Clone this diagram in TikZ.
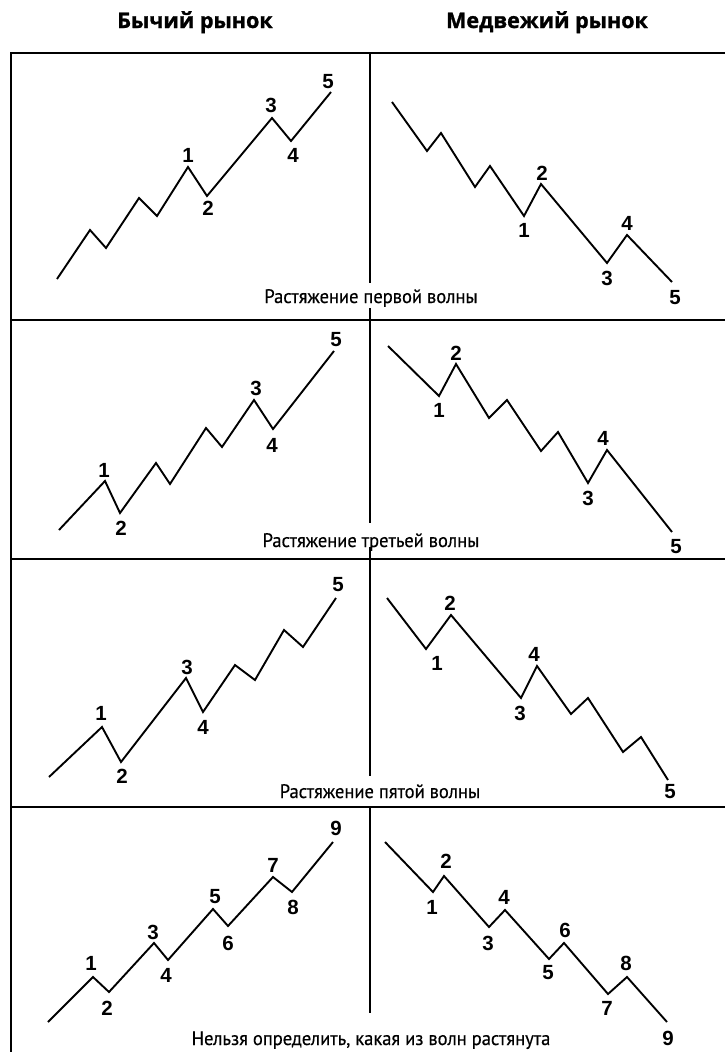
\documentclass[tikz,border=0pt]{standalone}
\usepackage{fontspec}
\setmainfont{PT Sans}
\newfontfamily\capfont[FakeStretch=0.95,FakeBold=0.4]{PT Sans}
\newfontfamily\numfont{Liberation Sans}
\newfontfamily\ttlfont[FakeBold=1.2]{Open Sans}
\begin{document}
\begin{tikzpicture}[x=1pt,y=-1pt,
  wave/.style={line width=1.9pt, line join=miter},
  frameline/.style={line width=1.8pt},
  lbl/.style={font=\numfont\bfseries\fontsize{20.5}{20.5}\selectfont, inner sep=0pt},
  captext/.style={font=\capfont\fontsize{19.5}{19.5}\selectfont, inner sep=0pt, anchor=base},
  titletext/.style={font=\ttlfont\bfseries\fontsize{21.5}{21.5}\selectfont, inner sep=0pt, anchor=base}]
\useasboundingbox (0,0) rectangle (724,1052);
\fill[white] (0,0) rectangle (724,1052);
% titles
\node[titletext] (tbull) at (195,28) {Бычий рынок};
\node[titletext] (tbear) at (547,28) {Медвежий рынок};
% frame
\draw[frameline] (11,1060) -- (11,53) -- (730,53);
\draw[frameline] (11,320) -- (730,320);
\draw[frameline] (11,559) -- (730,559);
\draw[frameline] (11,807) -- (730,807);
\draw[frameline] (370,53) -- (370,283);
\draw[frameline] (370,308) -- (370,523);
\draw[frameline] (370,547) -- (370,776);
\draw[frameline] (370,807) -- (370,1013);
% row 1
\draw[wave] (57,279) -- (90,230) -- (106,248) -- (139,198) -- (157,216) -- (188,167) -- (207,196) -- (272,118) -- (291,141) -- (331,92);
\draw[wave] (392,102) -- (427,151) -- (441,133) -- (475,187) -- (490,166) -- (524,216) -- (541,184) -- (607,263) -- (627,235) -- (672,282);
\node[lbl] (a1) at (188,155) {1};
\node[lbl] (a2) at (208,208) {2};
\node[lbl] (a3) at (271,105) {3};
\node[lbl] (a4) at (293,155) {4};
\node[lbl] (a5) at (328,82) {5};
\node[lbl] (b1) at (524,230) {1};
\node[lbl] (b2) at (542,173) {2};
\node[lbl] (b3) at (607,278) {3};
\node[lbl] (b4) at (627,223) {4};
\node[lbl] (b5) at (675,298) {5};
\node[captext] (c1) at (371,303) {Растяжение первой волны};
% row 2
\draw[wave] (59,530) -- (105,481) -- (120,513) -- (156,463) -- (170,484) -- (206,428) -- (222,447) -- (254,400) -- (273,429) -- (334,351);
\draw[wave] (388,346) -- (439,396) -- (456,364) -- (489,418) -- (507,400) -- (541,451) -- (558,432) -- (588,483) -- (607,450) -- (672,532);
\node[lbl] (d1) at (104,470) {1};
\node[lbl] (d2) at (121,528) {2};
\node[lbl] (d3) at (256,388) {3};
\node[lbl] (d4) at (272,445) {4};
\node[lbl] (d5) at (336,340) {5};
\node[lbl] (e1) at (439,410) {1};
\node[lbl] (e2) at (456,353) {2};
\node[lbl] (e3) at (588,498) {3};
\node[lbl] (e4) at (603,438) {4};
\node[lbl] (e5) at (676,547) {5};
\node[captext] (c2) at (371,547) {Растяжение третьей волны};
% row 3
\draw[wave] (49,777) -- (102,727) -- (121,762) -- (186,678) -- (203,712) -- (235,665) -- (255,680) -- (284,630) -- (303,647) -- (336,598);
\draw[wave] (387,598) -- (426,649) -- (451,615) -- (521,698) -- (537,666) -- (571,714) -- (588,698) -- (623,752) -- (641,737) -- (668,780);
\node[lbl] (f1) at (101,713) {1};
\node[lbl] (f2) at (122,776) {2};
\node[lbl] (f3) at (187,667) {3};
\node[lbl] (f4) at (203,727) {4};
\node[lbl] (f5) at (338,585) {5};
\node[lbl] (g1) at (437,663) {1};
\node[lbl] (g2) at (450,603) {2};
\node[lbl] (g3) at (520,713) {3};
\node[lbl] (g4) at (534,654) {4};
\node[lbl] (g5) at (670,792) {5};
\node[captext] (c3) at (380,798) {Растяжение пятой волны};
% row 4
\draw[wave] (48,1022) -- (93,977) -- (109,992) -- (154,943) -- (168,960) -- (213,909) -- (228,926) -- (273,877) -- (292,892) -- (333,842);
\draw[wave] (385,842) -- (433,892) -- (444,876) -- (489,927) -- (505,910) -- (549,959) -- (564,943) -- (608,994) -- (627,977) -- (667,1022);
\node[lbl] (h1) at (91,963) {1};
\node[lbl] (h2) at (107,1008) {2};
\node[lbl] (h3) at (153,932) {3};
\node[lbl] (h4) at (166,975) {4};
\node[lbl] (h5) at (215,897) {5};
\node[lbl] (h6) at (228,943) {6};
\node[lbl] (h7) at (273,865) {7};
\node[lbl] (h8) at (293,907) {8};
\node[lbl] (h9) at (336,828) {9};
\node[lbl] (k1) at (432,907) {1};
\node[lbl] (k2) at (446,861) {2};
\node[lbl] (k3) at (488,943) {3};
\node[lbl] (k4) at (504,897) {4};
\node[lbl] (k5) at (548,973) {5};
\node[lbl] (k6) at (565,930) {6};
\node[lbl] (k7) at (607,1008) {7};
\node[lbl] (k8) at (626,963) {8};
\node[lbl] (k9) at (668,1038) {9};
\node[captext] (c4) at (371,1045) {Нельзя определить, какая из волн растянута};
\end{tikzpicture}
\end{document}
